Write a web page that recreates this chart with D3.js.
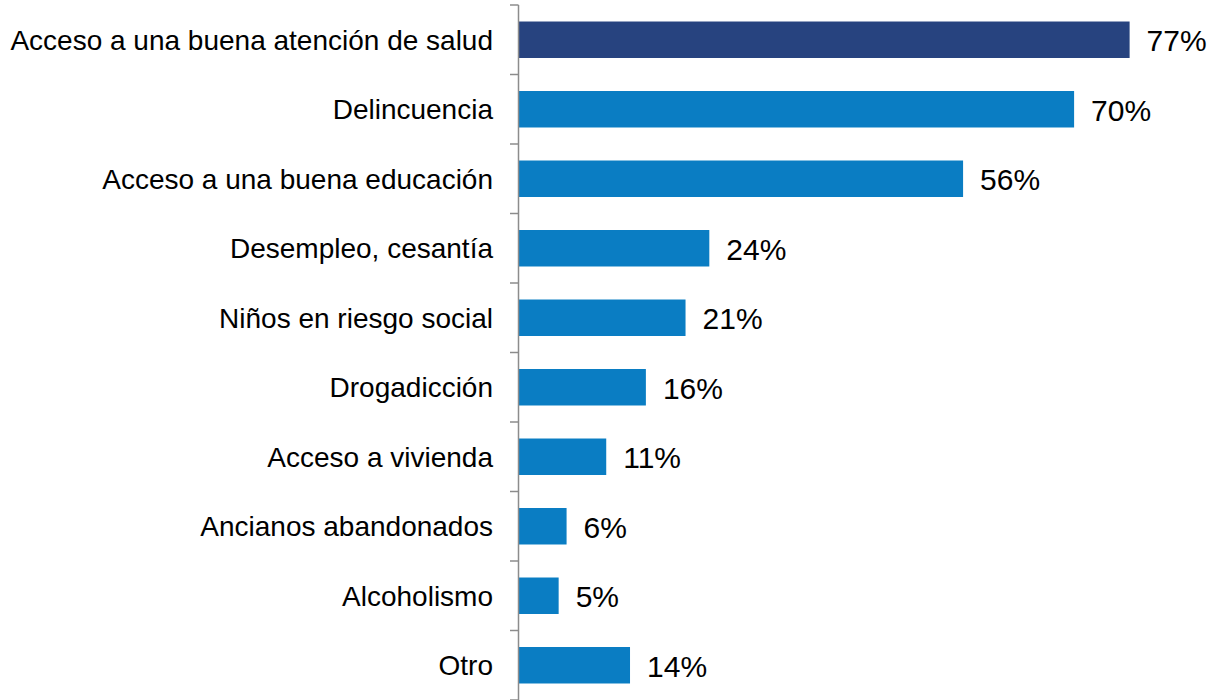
<!DOCTYPE html>
<html><head><meta charset="utf-8">
<script src="https://cdn.jsdelivr.net/npm/d3@7"></script>
<style>html,body{margin:0;padding:0;background:#fff;}svg{display:block;}</style>
</head><body>
<svg id="chart" width="1212" height="700"></svg>
<script>
const categories = ["Acceso a una buena atención de salud","Delincuencia","Acceso a una buena educación","Desempleo, cesantía","Niños en riesgo social","Drogadicción","Acceso a vivienda","Ancianos abandonados","Alcoholismo","Otro"];
const values = [77,70,56,24,21,16,11,6,5,14];
const valueLabels = ["77%","70%","56%","24%","21%","16%","11%","6%","5%","14%"];

(function(){
const svg = d3.select("#chart");
const x0 = 519, yTop = 5, yBottom = 700;
const x = d3.scaleLinear().domain([0,100]).range([x0, x0 + 793]);
const y = d3.scaleBand().domain(categories).range([yTop,yBottom]).paddingInner(0.475).paddingOuter(0.2375);
const step = y.step();
const font = "'Liberation Sans', Arial, sans-serif";

// bars
svg.selectAll("rect.bar").data(values).enter().append("rect")
  .attr("class","bar")
  .attr("x", x(0))
  .attr("y", (d,i)=>y(categories[i]))
  .attr("width", d=>x(d)-x(0))
  .attr("height", y.bandwidth())
  .attr("fill", (d,i)=> i===0 ? "#27437F" : "#0A7DC3");

// axis line and ticks
const ax = svg.append("g");
ax.append("line").attr("x1",x0-0.5).attr("x2",x0-0.5).attr("y1",yTop).attr("y2",yBottom)
  .attr("stroke","#8c8c8c").attr("stroke-width",1.5);
d3.range(categories.length+1).forEach(i=>{
  const yy = yTop + i*step;
  ax.append("line").attr("x1",x0-9).attr("x2",x0-0.5).attr("y1",yy).attr("y2",yy)
    .attr("stroke","#8c8c8c").attr("stroke-width",1.5);
});

// category labels
svg.selectAll("text.cat").data(categories).enter().append("text")
  .attr("class","cat")
  .attr("x", 493)
  .attr("y", d=>y(d)+y.bandwidth()/2)
  .attr("dy","0.35em")
  .attr("text-anchor","end")
  .attr("font-family",font).attr("font-size",28).attr("fill","#000")
  .text(d=>d);

// value labels
svg.selectAll("text.val").data(values).enter().append("text")
  .attr("class","val")
  .attr("x", d=>x(d)+17)
  .attr("y", (d,i)=>y(categories[i])+y.bandwidth()/2+1)
  .attr("dy","0.35em")
  .attr("font-family",font).attr("font-size",30).attr("fill","#000")
  .text((d,i)=>valueLabels[i]);
})();
</script>
</body></html>
